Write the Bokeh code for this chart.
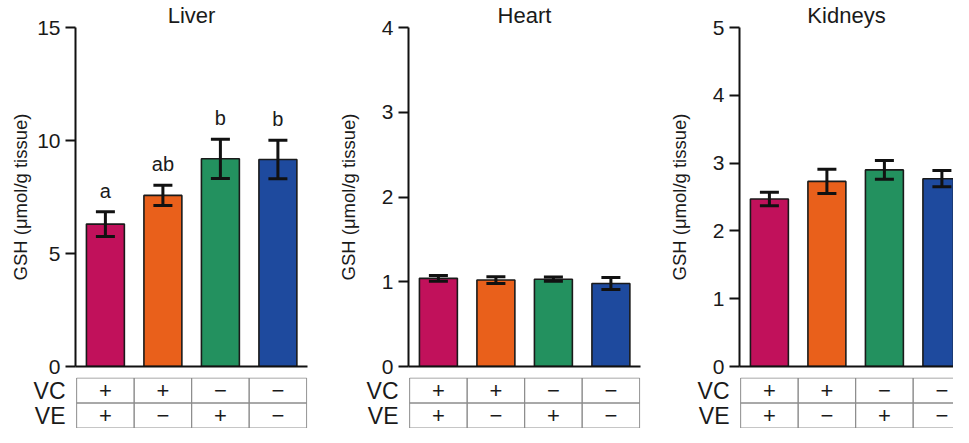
import numpy as np
from bokeh.plotting import figure
from bokeh.layouts import row, column
from bokeh.models import Range1d, FactorRange, FixedTicker, ColumnDataSource, Whisker, TeeHead
from bokeh.core.properties import value
from bokeh.embed import file_html
from bokeh.resources import INLINE

# ---------------- data ----------------
groups = ["VC+/VE+", "VC+/VE−", "VC−/VE+", "VC−/VE−"]
bar_colors = ["#C1115B", "#E9601B", "#23915F", "#1E4A9E"]

tissues = ["Liver", "Heart", "Kidneys"]

liver_mean = [6.30, 7.57, 9.19, 9.16]
liver_err = [0.55, 0.45, 0.87, 0.85]
liver_letters = ["a", "ab", "b", "b"]

heart_mean = [1.04, 1.02, 1.03, 0.98]
heart_err = [0.035, 0.04, 0.025, 0.07]

kidney_mean = [2.47, 2.73, 2.90, 2.77]
kidney_err = [0.10, 0.18, 0.14, 0.12]

y_max = [15, 4, 5]
y_ticks = [[0, 5, 10, 15], [0, 1, 2, 3, 4], [0, 1, 2, 3, 4, 5]]

row_labels = ["VC", "VE"]
vc_signs = ["+", "+", "−", "−"]
ve_signs = ["+", "−", "+", "−"]

y_label = "GSH (μmol/g tissue)"

FONT = "Liberation Sans"
TXT = "#1a1a1a"
UNIT = 57.5  # px per group


def panel(title, means, errs, letters, ymax, ticks, frame_w, lb, rb, lab_stand):
    xs = list(np.arange(len(groups)) + 0.5)
    xr = Range1d(-0.02, frame_w / UNIT - 0.02)
    upper = [m + e for m, e in zip(means, errs)]
    lower = [m - e for m, e in zip(means, errs)]
    src = ColumnDataSource(dict(x=xs, mean=means, color=bar_colors,
                                upper=upper, lower=lower))
    p = figure(frame_width=frame_w, frame_height=339, x_range=xr,
               y_range=Range1d(0, ymax), output_backend="svg",
               toolbar_location=None, min_border_left=lb, min_border_right=rb,
               min_border_top=26, min_border_bottom=11, title=title)
    p.outline_line_color = None
    p.grid.visible = False
    p.background_fill_color = None
    p.border_fill_color = None
    p.title.align = "center"
    p.title.text_font = FONT
    p.title.text_font_size = "22px"
    p.title.text_font_style = "normal"
    p.title.text_color = TXT
    p.title.standoff = 0
    p.title.offset = 0

    p.vbar(x="x", top="mean", width=0.66, source=src, fill_color="color",
           line_color="#1a1a1a", line_width=1.6)
    head = dict(size=19, line_width=3, line_color="#111111")
    w = Whisker(base="x", upper="upper", lower="lower", source=src,
                line_width=3, line_color="#111111", level="overlay",
                upper_head=TeeHead(**head), lower_head=TeeHead(**head))
    p.add_layout(w)

    if letters:
        lsrc = ColumnDataSource(dict(x=xs, y=upper, t=letters))
        p.text(x="x", y="y", text="t", source=lsrc, text_align="center",
               text_baseline="alphabetic", y_offset=-21, text_font=value(FONT),
               text_font_size="20px", text_color=TXT)

    ya = p.yaxis[0]
    ya.ticker = FixedTicker(ticks=ticks)
    ya.bounds = (0, ymax)
    ya.axis_line_width = 2
    ya.axis_line_color = "#111111"
    ya.major_tick_line_width = 2
    ya.major_tick_line_color = "#111111"
    ya.major_tick_out = 10
    ya.major_tick_in = 0
    ya.minor_tick_line_color = None
    ya.major_label_text_font = FONT
    ya.major_label_text_font_size = "21px"
    ya.major_label_text_color = TXT
    ya.major_label_standoff = 5
    ya.axis_label = y_label
    ya.axis_label_text_font = FONT
    ya.axis_label_text_font_size = "18.5px"
    ya.axis_label_text_font_style = "normal"
    ya.axis_label_text_color = TXT
    ya.axis_label_standoff = lab_stand

    xa = p.xaxis[0]
    xa.ticker = FixedTicker(ticks=[])
    xa.axis_line_width = 2
    xa.axis_line_color = "#111111"
    xa.major_tick_line_color = None
    xa.minor_tick_line_color = None
    xa.major_label_text_font_size = "0px"

    # treatment table
    t = figure(frame_width=frame_w, frame_height=51, x_range=xr,
               y_range=FactorRange(factors=["VE", "VC"], range_padding=0.02,
                                   range_padding_units="absolute"),
               x_axis_type=None, output_backend="svg", toolbar_location=None,
               min_border_left=lb, min_border_right=rb, min_border_top=0,
               min_border_bottom=0)
    t.outline_line_color = None
    t.grid.visible = False
    t.background_fill_color = None
    t.border_fill_color = None
    tsrc = ColumnDataSource(dict(
        x=xs + xs,
        y=[row_labels[0]] * len(xs) + [row_labels[1]] * len(xs),
        s=vc_signs + ve_signs,
    ))
    t.rect(x="x", y="y", width=1, height=1, source=tsrc, fill_color=None,
           line_color="#8c8c8c", line_width=1)
    t.text(x="x", y="y", text="s", source=tsrc, text_align="center",
           text_baseline="middle", text_font=value(FONT), text_font_size="22px",
           text_color=TXT)
    ta = t.yaxis[0]
    ta.axis_line_color = None
    ta.major_tick_line_color = None
    ta.minor_tick_line_color = None
    ta.major_label_text_font = FONT
    ta.major_label_text_font_size = "23px"
    ta.major_label_text_color = TXT
    ta.major_label_standoff = 4
    return column(p, t, spacing=0)


c1 = panel(tissues[0], liver_mean, liver_err, liver_letters, y_max[0], y_ticks[0],
           232, 75, 20, 3)
c2 = panel(tissues[1], heart_mean, heart_err, None, y_max[1], y_ticks[1],
           232, 81, 18, 20)
c3 = panel(tissues[2], kidney_mean, kidney_err, None, y_max[2], y_ticks[2],
           214, 81, 0, 20)

layout = row(c1, c2, c3, spacing=0)
open("out.html", "w").write(file_html(layout, INLINE))
